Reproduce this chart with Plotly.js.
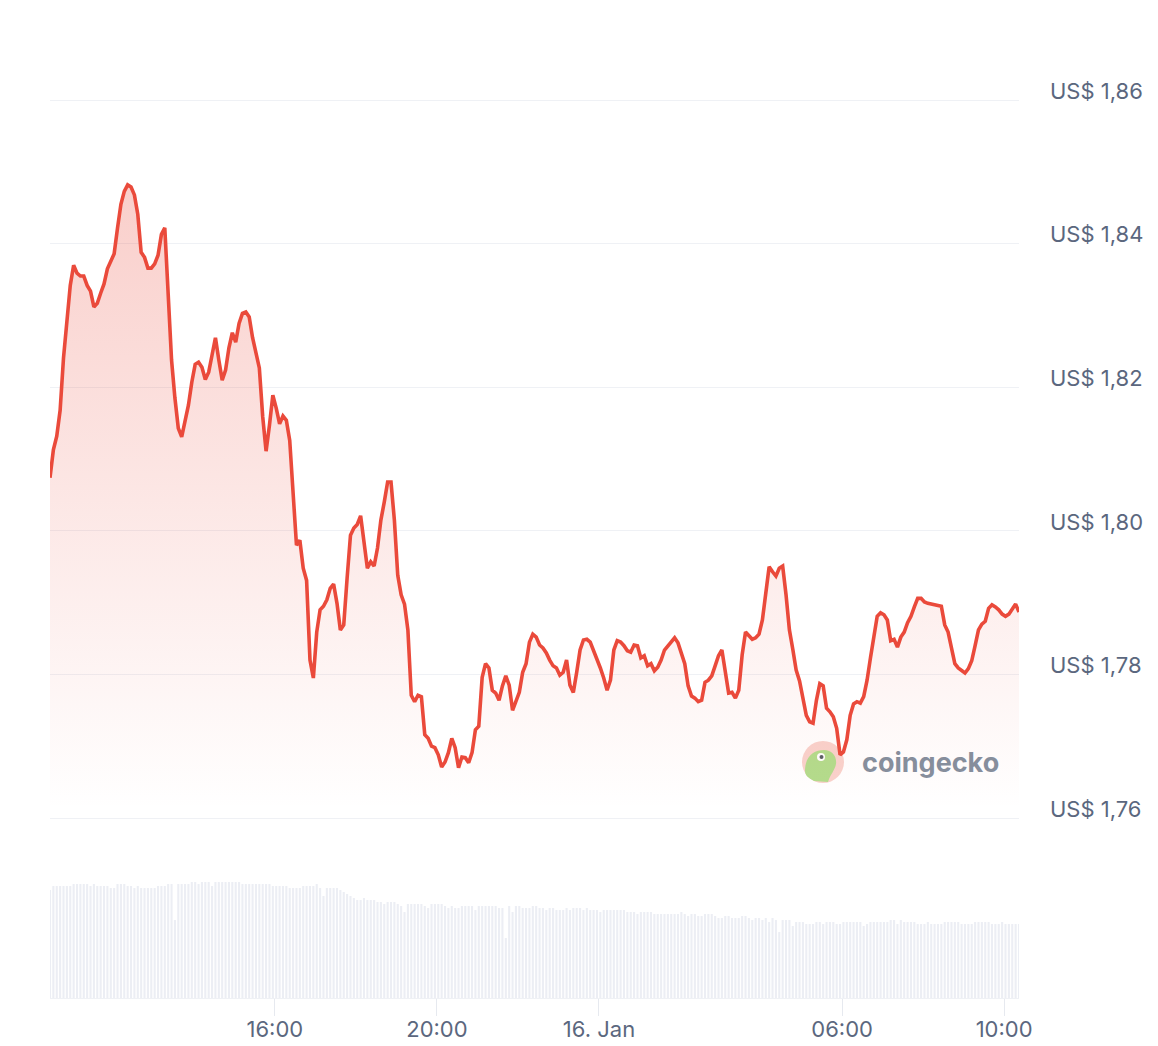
<!DOCTYPE html>
<html>
<head>
<meta charset="utf-8">
<script src="https://cdn.plot.ly/plotly-3.0.1.min.js"></script>
<style>
  html, body { margin: 0; padding: 0; background: #fff; }
  #chart { width: 1158px; height: 1046px; }
</style>
</head>
<body>
<div id="chart"></div>
<script>
// 24h price + volume, 5 minute samples starting 15 Jan 10:27
const startTime = Date.UTC(2025, 0, 15, 10, 27);
const stepMinutes = 5;

const prices = [
  1.8074, 1.8113, 1.8132, 1.8168, 1.8241, 1.8298, 1.8342, 1.8370, 1.8359, 1.8355, 1.8355, 1.8342,
  1.8334, 1.8312, 1.8317, 1.8331, 1.8344, 1.8365, 1.8376, 1.8386, 1.8422, 1.8455, 1.8473, 1.8482,
  1.8479, 1.8468, 1.8441, 1.8388, 1.8381, 1.8366, 1.8366, 1.8372, 1.8384, 1.8413, 1.8422, 1.8321,
  1.8238, 1.8185, 1.8143, 1.8131, 1.8154, 1.8175, 1.8207, 1.8232, 1.8235, 1.8228, 1.8211, 1.8221,
  1.8245, 1.8269, 1.8238, 1.8210, 1.8224, 1.8255, 1.8276, 1.8263, 1.8289, 1.8303, 1.8305, 1.8298,
  1.8269, 1.8249, 1.8227, 1.8159, 1.8111, 1.8147, 1.8189, 1.8171, 1.8149, 1.8160, 1.8154, 1.8126,
  1.8050, 1.7980, 1.7987, 1.7948, 1.7931, 1.7820, 1.7795, 1.7859, 1.7890, 1.7895, 1.7904, 1.7920,
  1.7926, 1.7899, 1.7862, 1.7869, 1.7934, 1.7994, 1.8004, 1.8009, 1.8021, 1.7987, 1.7948, 1.7957,
  1.7951, 1.7976, 1.8015, 1.8040, 1.8068, 1.8068, 1.8015, 1.7938, 1.7911, 1.7898, 1.7862, 1.7771,
  1.7762, 1.7771, 1.7769, 1.7716, 1.7711, 1.7700, 1.7698, 1.7688, 1.7671, 1.7678, 1.7691, 1.7711,
  1.7698, 1.7670, 1.7685, 1.7684, 1.7677, 1.7691, 1.7723, 1.7728, 1.7796, 1.7815, 1.7809, 1.7778,
  1.7774, 1.7764, 1.7784, 1.7798, 1.7785, 1.7750, 1.7764, 1.7775, 1.7803, 1.7815, 1.7845, 1.7856,
  1.7852, 1.7841, 1.7837, 1.7830, 1.7820, 1.7812, 1.7809, 1.7799, 1.7803, 1.7820, 1.7785, 1.7775,
  1.7803, 1.7834, 1.7848, 1.7849, 1.7845, 1.7834, 1.7820, 1.7809, 1.7795, 1.7778, 1.7792, 1.7834,
  1.7847, 1.7845, 1.7840, 1.7833, 1.7831, 1.7841, 1.7840, 1.7823, 1.7826, 1.7812, 1.7815, 1.7805,
  1.7810, 1.7820, 1.7834, 1.7840, 1.7845, 1.7851, 1.7844, 1.7831, 1.7815, 1.7784, 1.7770, 1.7767,
  1.7762, 1.7764, 1.7789, 1.7792, 1.7798, 1.7812, 1.7826, 1.7834, 1.7803, 1.7774, 1.7775, 1.7767,
  1.7778, 1.7827, 1.7859, 1.7853, 1.7849, 1.7851, 1.7856, 1.7876, 1.7911, 1.7950, 1.7943, 1.7937,
  1.7948, 1.7951, 1.7911, 1.7862, 1.7835, 1.7806, 1.7791, 1.7769, 1.7743, 1.7734, 1.7732, 1.7764,
  1.7787, 1.7784, 1.7753, 1.7748, 1.7741, 1.7725, 1.7688, 1.7692, 1.7709, 1.7743, 1.7759, 1.7762,
  1.7760, 1.7769, 1.7792, 1.7823, 1.7856, 1.7881, 1.7886, 1.7883, 1.7876, 1.7847, 1.7849, 1.7838,
  1.7852, 1.7859, 1.7872, 1.7881, 1.7894, 1.7906, 1.7906, 1.7901, 1.7899, 1.7898, 1.7897, 1.7895,
  1.7895, 1.7869, 1.7859, 1.7837, 1.7815, 1.7809, 1.7805, 1.7802, 1.7808, 1.7819, 1.7840, 1.7862,
  1.7870, 1.7874, 1.7892, 1.7897, 1.7894, 1.7890, 1.7884, 1.7881, 1.7884, 1.7891, 1.7898, 1.7887
];

// volume, millions of US$
const volumes = [
  10.8, 11.2, 11.2, 11.2, 11.2, 11.2, 11.2, 11.4, 11.4, 11.4, 11.4, 11.4,
  11.2, 11.4, 11.2, 11.2, 11.2, 11.2, 11.0, 11.0, 11.4, 11.4, 11.4, 11.2,
  11.2, 11.0, 11.2, 11.0, 11.0, 11.0, 11.0, 11.0, 11.2, 11.2, 11.2, 11.4,
  11.4, 7.8, 11.4, 11.4, 11.4, 11.4, 11.6, 11.6, 11.4, 11.6, 11.6, 11.6,
  11.2, 11.6, 11.6, 11.6, 11.6, 11.6, 11.6, 11.6, 11.6, 11.4, 11.4, 11.4,
  11.4, 11.4, 11.4, 11.4, 11.4, 11.4, 11.2, 11.2, 11.2, 11.2, 11.2, 11.0,
  11.0, 11.0, 11.0, 11.2, 11.2, 11.2, 11.2, 11.4, 11.0, 10.2, 11.0, 11.0,
  11.0, 11.0, 10.8, 10.6, 10.4, 10.2, 10.0, 9.8, 9.8, 10.0, 9.8, 9.8,
  9.8, 9.6, 9.6, 9.4, 9.6, 9.6, 9.6, 9.4, 9.2, 8.6, 9.4, 9.4,
  9.4, 9.4, 9.4, 9.2, 9.0, 9.4, 9.4, 9.4, 9.4, 9.2, 9.0, 9.2,
  9.0, 9.0, 9.2, 9.2, 9.2, 9.2, 8.8, 9.2, 9.2, 9.2, 9.2, 9.2,
  9.2, 9.0, 9.0, 6.0, 9.2, 8.6, 9.2, 9.2, 9.0, 9.0, 9.0, 9.2,
  9.2, 9.0, 9.0, 8.8, 9.0, 9.0, 8.8, 8.8, 8.8, 9.0, 8.8, 9.0,
  9.0, 9.0, 8.8, 9.0, 8.8, 8.8, 8.8, 8.6, 8.8, 8.8, 8.8, 8.8,
  8.8, 8.8, 8.8, 8.6, 8.6, 8.6, 8.4, 8.6, 8.6, 8.6, 8.6, 8.4,
  8.4, 8.4, 8.4, 8.4, 8.4, 8.4, 8.4, 8.6, 8.4, 8.2, 8.4, 8.4,
  8.2, 8.2, 8.4, 8.4, 8.4, 8.2, 8.0, 8.0, 8.2, 8.2, 8.0, 8.0,
  8.0, 8.2, 8.2, 8.0, 7.8, 8.0, 8.0, 7.8, 8.0, 7.6, 8.0, 7.8,
  6.6, 7.8, 7.8, 7.8, 7.2, 7.6, 7.6, 7.6, 7.4, 7.4, 7.4, 7.6,
  7.6, 7.4, 7.6, 7.6, 7.6, 7.4, 7.4, 7.6, 7.6, 7.6, 7.6, 7.6,
  7.6, 7.2, 7.4, 7.6, 7.6, 7.6, 7.6, 7.6, 7.6, 7.8, 7.8, 7.4,
  7.8, 7.6, 7.6, 7.6, 7.6, 7.4, 7.4, 7.4, 7.6, 7.4, 7.4, 7.4,
  7.4, 7.6, 7.6, 7.6, 7.6, 7.6, 7.4, 7.4, 7.4, 7.4, 7.6, 7.6,
  7.6, 7.6, 7.6, 7.4, 7.4, 7.4, 7.6, 7.4, 7.4, 7.4, 7.4, 7.4
];

const priceTicks = [1.76, 1.78, 1.80, 1.82, 1.84, 1.86];
const priceTickLabels = ['US$ 1,76', 'US$ 1,78', 'US$ 1,80', 'US$ 1,82', 'US$ 1,84', 'US$ 1,86'];
const timeTicks = ['2025-01-15 16:00', '2025-01-15 20:00', '2025-01-16 00:00', '2025-01-16 06:00', '2025-01-16 10:00'];
const timeTickLabels = ['16:00', '20:00', '16. Jan', '06:00', '10:00'];

const fmt = ms => new Date(ms).toISOString().slice(0, 16).replace('T', ' ');
const times = prices.map((_, i) => fmt(startTime + i * stepMinutes * 60000));

const RED = '#ea4a3b';
const LABEL = '#5b677e';
const GRID = '#eff1f5';

const volumeTrace = {
  x: times, y: volumes, type: 'bar', xaxis: 'x', yaxis: 'y2',
  marker: { color: '#eceef4', line: { width: 0 } },
  hoverinfo: 'skip'
};

const priceTrace = {
  x: times, y: prices, type: 'scatter', mode: 'lines', xaxis: 'x', yaxis: 'y',
  line: { color: RED, width: 3.6, shape: 'linear' },
  fill: 'tozeroy',
  fillgradient: {
    type: 'vertical', start: 1.761, stop: 1.849,
    colorscale: [[0, 'rgba(234,74,59,0)'], [1, 'rgba(234,74,59,0.27)']]
  },
  hoverinfo: 'skip'
};

// plot area: x 50..1019, y 98..998 (1.86 gridline sits at y=100)
const logoX = (823 - 50) / 969;
const logoY = (998 - 762) / 900;

const layout = {
  width: 1158, height: 1046,
  margin: { l: 50, r: 139, t: 98, b: 48 },
  paper_bgcolor: '#fff', plot_bgcolor: '#fff',
  font: { family: 'Inter, "Noto Sans", sans-serif', color: LABEL, size: 22 },
  showlegend: false,
  bargap: 0.38,
  xaxis: {
    type: 'date', anchor: 'y2',
    range: [times[0], times[times.length - 1]],
    tickvals: timeTicks, ticktext: timeTickLabels,
    ticks: 'outside', ticklen: 17, tickcolor: '#e6e9ef', tickwidth: 1,
    ticklabelstandoff: -5,
    showgrid: false, zeroline: false,
    showline: true, linecolor: GRID, linewidth: 1,
    tickfont: { size: 22, color: LABEL }
  },
  yaxis: {
    domain: [0.1976, 1], range: [1.7597, 1.8603], side: 'right',
    tickvals: priceTicks, ticktext: priceTickLabels,
    showgrid: true, gridcolor: GRID, gridwidth: 1,
    zeroline: false, showline: false, ticks: '',
    ticklabelstandoff: 30, ticklabelshift: -9,
    tickfont: { size: 22, color: LABEL }
  },
  yaxis2: {
    domain: [0, 0.1333], range: [0, 12],
    showgrid: false, zeroline: false, showticklabels: false, ticks: ''
  },
  shapes: [
    {
      type: 'circle', layer: 'below', xref: 'paper', yref: 'paper',
      xsizemode: 'pixel', ysizemode: 'pixel', xanchor: logoX, yanchor: logoY,
      x0: -21, x1: 21, y0: -21, y1: 21,
      fillcolor: '#f9d2cc', line: { width: 0 }
    },
    {
      type: 'path', layer: 'below', xref: 'paper', yref: 'paper',
      xsizemode: 'pixel', ysizemode: 'pixel', xanchor: logoX, yanchor: logoY,
      path: 'M -18,-9 C -18,6 -9,12 1,12 C 9,12 14,6 13,-2 C 12,-8 7,-13 5,-20 L -9,-19 C -15,-16 -18,-13 -18,-9 Z',
      fillcolor: '#b3dc8c', line: { width: 0 }
    },
    {
      type: 'circle', layer: 'below', xref: 'paper', yref: 'paper',
      xsizemode: 'pixel', ysizemode: 'pixel', xanchor: logoX, yanchor: logoY,
      x0: -6, x1: 2, y0: 1, y1: 9,
      fillcolor: '#ffffff', line: { width: 0 }
    },
    {
      type: 'circle', layer: 'below', xref: 'paper', yref: 'paper',
      xsizemode: 'pixel', ysizemode: 'pixel', xanchor: logoX, yanchor: logoY,
      x0: -3.5, x1: 0.5, y0: 3, y1: 7,
      fillcolor: '#5a5f66', line: { width: 0 }
    }
  ],
  annotations: [
    {
      xref: 'paper', yref: 'paper', x: (860 - 50) / 969, y: logoY,
      xanchor: 'left', yanchor: 'middle', showarrow: false,
      text: 'coingecko',
      font: { family: 'Inter, "Noto Sans", sans-serif', size: 27, color: '#868e9c', weight: 700 }
    }
  ]
};

Plotly.newPlot('chart', [volumeTrace, priceTrace], layout, { displayModeBar: false, staticPlot: true });
</script>
</body>
</html>
